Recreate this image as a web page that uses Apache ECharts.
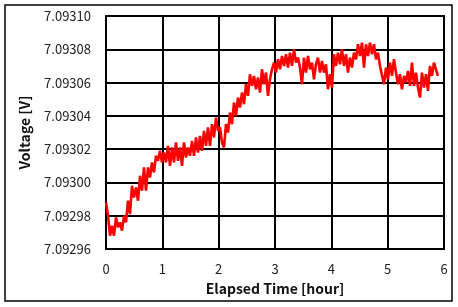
<!DOCTYPE html>
<html>
<head>
<meta charset="utf-8">
<script src="https://cdn.jsdelivr.net/npm/echarts@6/dist/echarts.min.js"></script>
<style>
html,body{margin:0;padding:0;background:#fff;}
#chart{width:458px;height:307px;}
</style>
</head>
<body>
<div id="chart"></div>
<script>
// Sampling interval (hours) of the recorded trace
const sampleStepHours = 0.0355;
// Voltage above 7.09296 V, in microvolts
const voltageOffsetUV = [
28,20,8,14,8,19,13,16,11,20,16,29,21,38,31,37,29,44,35,49,
35,49,43,52,46,56,53,59,52,58,52,62,50,61,52,64,53,61,50,64,
55,61,56,65,56,67,58,68,59,71,62,73,62,75,67,79,71,73,64,61,
75,70,82,75,88,80,91,85,94,87,99,92,105,98,104,96,103,94,108,99,
106,92,102,108,112,106,114,108,116,110,117,109,118,110,120,112,115,109,99,115,
106,116,108,112,102,111,115,106,113,106,111,96,105,97,117,110,118,111,120,110,
117,106,115,109,118,114,123,116,124,109,123,116,124,117,123,114,118,110,111,99,
109,102,112,104,114,106,99,105,96,104,100,107,98,112,98,106,97,91,106,97,
105,95,110,104,112,108,104
];
const baseVoltage = 7.09296;
const xTicks = ['0','1','2','3','4','5','6'];
const yTickLabels = ['7.09296','7.09298','7.09300','7.09302','7.09304','7.09306','7.09308','7.09310'];

const seriesData = voltageOffsetUV.map((v, i) => [i * sampleStepHours, v]);

const chart = echarts.init(document.getElementById('chart'));
const font = '"Noto Sans CJK KR", "Noto Sans", sans-serif';
chart.setOption({
  animation: false,
  backgroundColor: '#fff',
  grid: {left: 106, top: 16, right: 14, bottom: 58, show: true, borderColor: '#000', borderWidth: 2},
  graphic: [{
    type: 'rect', shape: {x: 5, y: 5, width: 447, height: 296},
    style: {fill: 'none', stroke: '#000', lineWidth: 1.5}, silent: true, z: -1
  }],
  xAxis: {
    type: 'value', min: 0, max: 6, interval: 1,
    name: 'Elapsed Time [hour]', nameLocation: 'middle', nameGap: 33,
    nameTextStyle: {fontFamily: font, fontSize: 14, fontWeight: 'bold', color: '#111'},
    axisLine: {show: false}, axisTick: {show: false},
    axisLabel: {margin: 14, fontFamily: font, fontSize: 13, color: '#222',
      formatter: v => xTicks[Math.round(v)]},
    splitLine: {show: true, lineStyle: {color: '#000', width: 2}}
  },
  yAxis: {
    type: 'value', min: 0, max: 140, interval: 20,
    name: 'Voltage [V]', nameLocation: 'middle', nameGap: 74, nameRotate: 90,
    nameTextStyle: {fontFamily: font, fontSize: 14, fontWeight: 'bold', color: '#111'},
    axisLine: {show: false}, axisTick: {show: false},
    axisLabel: {margin: 15, fontFamily: font, fontSize: 13, color: '#222',
      formatter: v => yTickLabels[Math.round(v / 20)]},
    splitLine: {show: true, lineStyle: {color: '#000', width: 2}}
  },
  series: [{
    type: 'line', data: seriesData, showSymbol: false,
    lineStyle: {color: '#ff0000', width: 2.6}, z: 3
  }]
});
</script>
</body>
</html>
